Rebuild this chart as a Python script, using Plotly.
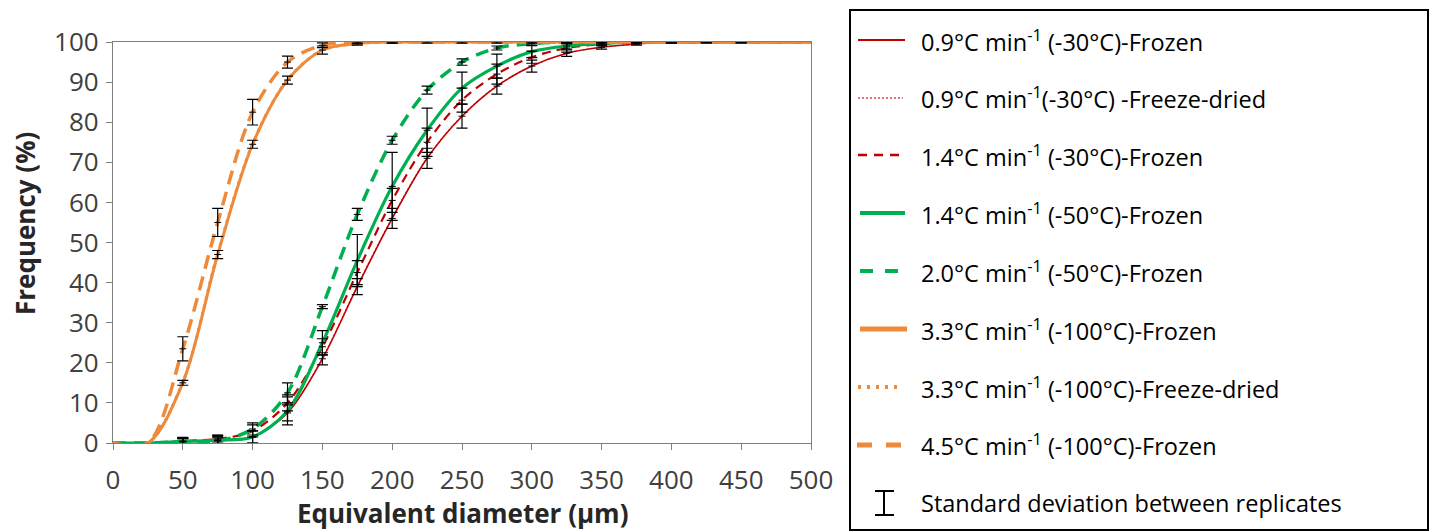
import plotly.graph_objects as go

# ---------------- data ----------------
diameter = [0, 25, 50, 75, 100, 125, 150, 175, 200, 225, 250, 275, 300, 325, 350, 375, 400, 425, 450, 475, 500]

red_09_frozen = [0, 0, 0.3, 0.6, 1.5, 7.5, 21, 39, 56, 71, 81.5, 89, 94, 97.2, 98.7, 99.5, 100, 100, 100, 100, 100]
red_09_fd = [0, 0, 0.3, 0.6, 1.6, 7.6, 21.2, 39.2, 56.2, 71.1, 81.6, 89.1, 94, 97.2, 98.7, 99.5, 100, 100, 100, 100, 100]
red_14_frozen = [0, 0, 0.5, 1, 3, 10, 24, 42.5, 60.5, 75, 85.5, 92, 96.2, 98.5, 99.5, 100, 100, 100, 100, 100, 100]
green_14_frozen = [0, 0, 0.4, 0.7, 1.5, 8, 25, 45.5, 64, 78, 88.5, 94, 97.6, 99, 99.6, 100, 100, 100, 100, 100, 100]
green_20_frozen = [0, 0, 0.3, 0.5, 3.5, 12.5, 34, 57, 75.5, 88, 95, 98.5, 99.6, 100, 100, 100, 100, 100, 100, 100, 100]
orange_33_frozen = [0, 0, 15, 47, 74.5, 90.5, 98, 99.6, 100, 100, 100, 100, 100, 100, 100, 100, 100, 100, 100, 100, 100]
orange_33_fd = [0, 0, 15.2, 47.2, 74.6, 90.6, 98, 99.6, 100, 100, 100, 100, 100, 100, 100, 100, 100, 100, 100, 100, 100]
orange_45_frozen = [0, 0, 23.5, 55, 82.5, 95, 99.2, 100, 100, 100, 100, 100, 100, 100, 100, 100, 100, 100, 100, 100, 100]

# standard deviations between replicates (same x positions)
sd_red_09 = [None, None, 0.8, 1, 1.5, 2, 1.5, 2, 2.5, 2.5, 3, 2, 1.5, 0.8, 0.5, 0.3, 0.2, 0.1, 0.1, None, None]
sd_red_14 = [None, None, 0.8, 1, 1.5, 2, 2, 3, 3, 3.5, 3, 2.5, 1.5, 1, 0.5, 0.3, 0.2, 0.1, 0.1, None, None]
sd_green_14 = [None, None, 1, 1.2, 1.5, 3.5, 3, 6.5, 8.5, 5.5, 4, 3, 1.5, 0.8, 0.4, 0.2, 0.1, None, None, None, None]
sd_green_20 = [None, None, 0.8, 0.8, 1.5, 2.5, 0.5, 1.5, 1, 1, 0.8, 0.5, 0.4, 0.2, 0.1, None, None, None, None, None, None]
sd_orange_33 = [None, None, 0.6, 1, 1, 1, 1, 0.4, 0.3, 0.3, 0.3, 0.3, 0.3, 0.3, 0.3, 0.3, 0.3, 0.3, 0.3, None, None]
sd_orange_45 = [None, None, 3, 3.5, 3.2, 1.5, 0.6, 0.4, 0.3, None, None, None, None, None, None, None, None, None, None, None, None]

x_ticks = [0, 50, 100, 150, 200, 250, 300, 350, 400, 450, 500]
y_ticks = [0, 10, 20, 30, 40, 50, 60, 70, 80, 90, 100]

legend_labels = [
    "0.9°C min<sup>-1</sup> (-30°C)-Frozen",
    "0.9°C min<sup>-1</sup>(-30°C) -Freeze-dried",
    "1.4°C min<sup>-1</sup> (-30°C)-Frozen",
    "1.4°C min<sup>-1</sup> (-50°C)-Frozen",
    "2.0°C min<sup>-1</sup> (-50°C)-Frozen",
    "3.3°C min<sup>-1</sup> (-100°C)-Frozen",
    "3.3°C min<sup>-1</sup> (-100°C)-Freeze-dried",
    "4.5°C min<sup>-1</sup> (-100°C)-Frozen",
    "Standard deviation between replicates",
]

RED = "#C00000"
GREEN = "#00B050"
ORANGE = "#ED8A3C"

# series: (values, color, width, dash)
series = [
    (red_09_fd, "#E04050", 1.2, "2px,2px"),
    (red_09_frozen, RED, 1.6, "solid"),
    (red_14_frozen, RED, 2.2, "9px,6px"),
    (green_14_frozen, GREEN, 3.2, "solid"),
    (green_20_frozen, GREEN, 3.5, "13px,8px"),
    (orange_33_fd, ORANGE, 3, "3px,5px"),
    (orange_33_frozen, ORANGE, 3, "solid"),
    (orange_45_frozen, ORANGE, 3.5, "14px,8px"),
]

fig = go.Figure()
for vals, col, w, dash in series:
    fig.add_trace(go.Scatter(
        x=diameter, y=vals, mode="lines",
        line=dict(color=col, width=w, dash=dash, shape="spline", smoothing=0.9),
        showlegend=False, hoverinfo="skip"))

for vals, sd in [(red_09_frozen, sd_red_09), (red_14_frozen, sd_red_14),
                 (green_14_frozen, sd_green_14), (green_20_frozen, sd_green_20),
                 (orange_33_frozen, sd_orange_33), (orange_45_frozen, sd_orange_45)]:
    xs = [d for d, s in zip(diameter, sd) if s is not None]
    ys = [v for v, s in zip(vals, sd) if s is not None]
    ss = [s for s in sd if s is not None]
    fig.add_trace(go.Scatter(
        x=xs, y=ys, mode="markers",
        marker=dict(symbol="line-ew", size=5, color="black", line=dict(width=1, color="black")),
        error_y=dict(type="data", array=ss, visible=True, color="black", thickness=1.2, width=5.5),
        showlegend=False, hoverinfo="skip"))

# ---------------- layout ----------------
# target screen positions of the plot area (page has an 8px body margin)
OFF = 8
L, R, T, B = 113, 811, 42, 443
W, H = 1437, 532


def px2x(px):
    return (px - L) / (R - L)


def px2y(py):
    return (B - py) / (B - T)


axis_font = dict(family="Open Sans", size=26, color="#404040")
fig.update_layout(
    width=W, height=H, autosize=False,
    margin=dict(l=L - OFF, r=W - (R - OFF), t=T - OFF, b=H - (B - OFF), pad=0),
    paper_bgcolor="white", plot_bgcolor="white",
    xaxis=dict(range=[0, 500], tickvals=x_ticks, ticks="outside", ticklen=6, tickcolor="#7f7f7f",
               showgrid=False, zeroline=False, showline=True, linecolor="#7f7f7f", linewidth=1.3,
               mirror=True, tickfont=axis_font, ticklabelstandoff=8, layer="below traces"),
    yaxis=dict(range=[0, 100], tickvals=y_ticks, ticks="outside", ticklen=6, tickcolor="#7f7f7f",
               showgrid=False, zeroline=False, showline=True, linecolor="#7f7f7f", linewidth=1.3,
               mirror=True, tickfont=axis_font, ticklabelstandoff=2, layer="below traces"),
)

shapes = []
annotations = []
title_font = dict(family="Open Sans", size=26, color="#262626")
# axis titles
annotations.append(dict(text="<b>Frequency (%)</b>", x=px2x(25), y=px2y(224), xref="paper", yref="paper",
                        textangle=-90, showarrow=False, xanchor="center", yanchor="middle",
                        font=title_font))
annotations.append(dict(text="<b>Equivalent diameter (µm)</b>", x=px2x(462), y=px2y(513), xref="paper", yref="paper",
                        showarrow=False, xanchor="center", yanchor="middle",
                        font=title_font))

# legend box
shapes.append(dict(type="rect", xref="paper", yref="paper", x0=px2x(850), x1=px2x(1428),
                   y0=px2y(10), y1=px2y(530), line=dict(color="black", width=2), fillcolor="rgba(0,0,0,0)"))
rows = [40, 98, 155, 213, 271, 329, 387, 445, 503]
legend_lines = [
    (RED, 2, "solid", 858, 905),
    ("#E04050", 1.5, "2px,2px", 858, 903),
    (RED, 2.5, "9px,7px", 858, 905),
    (GREEN, 4, "solid", 860, 905),
    (GREEN, 4, "13px,12px", 860, 903),
    (ORANGE, 5, "solid", 860, 907),
    (ORANGE, 4, "3px,6px", 858, 902),
    (ORANGE, 5, "15px,14px", 857, 905),
]
for (col, w, dash, a, b), ry in zip(legend_lines, rows):
    shapes.append(dict(type="line", xref="paper", yref="paper", x0=px2x(a), x1=px2x(b),
                       y0=px2y(ry), y1=px2y(ry), line=dict(color=col, width=w, dash=dash)))
# std dev icon
ry = rows[8]
shapes.append(dict(type="line", xref="paper", yref="paper", x0=px2x(884), x1=px2x(884),
                   y0=px2y(ry - 12), y1=px2y(ry + 12), line=dict(color="black", width=2)))
for yy in (ry - 12, ry + 12):
    shapes.append(dict(type="line", xref="paper", yref="paper", x0=px2x(875), x1=px2x(894),
                       y0=px2y(yy), y1=px2y(yy), line=dict(color="black", width=2)))
for lab, ry in zip(legend_labels, rows):
    annotations.append(dict(text=lab, x=px2x(919), y=px2y(ry), xref="paper", yref="paper",
                            showarrow=False, xanchor="left", yanchor="middle",
                            font=dict(family="Open Sans", size=23.5, color="black")))

fig.update_layout(shapes=shapes, annotations=annotations)
fig.write_html("out.html")
